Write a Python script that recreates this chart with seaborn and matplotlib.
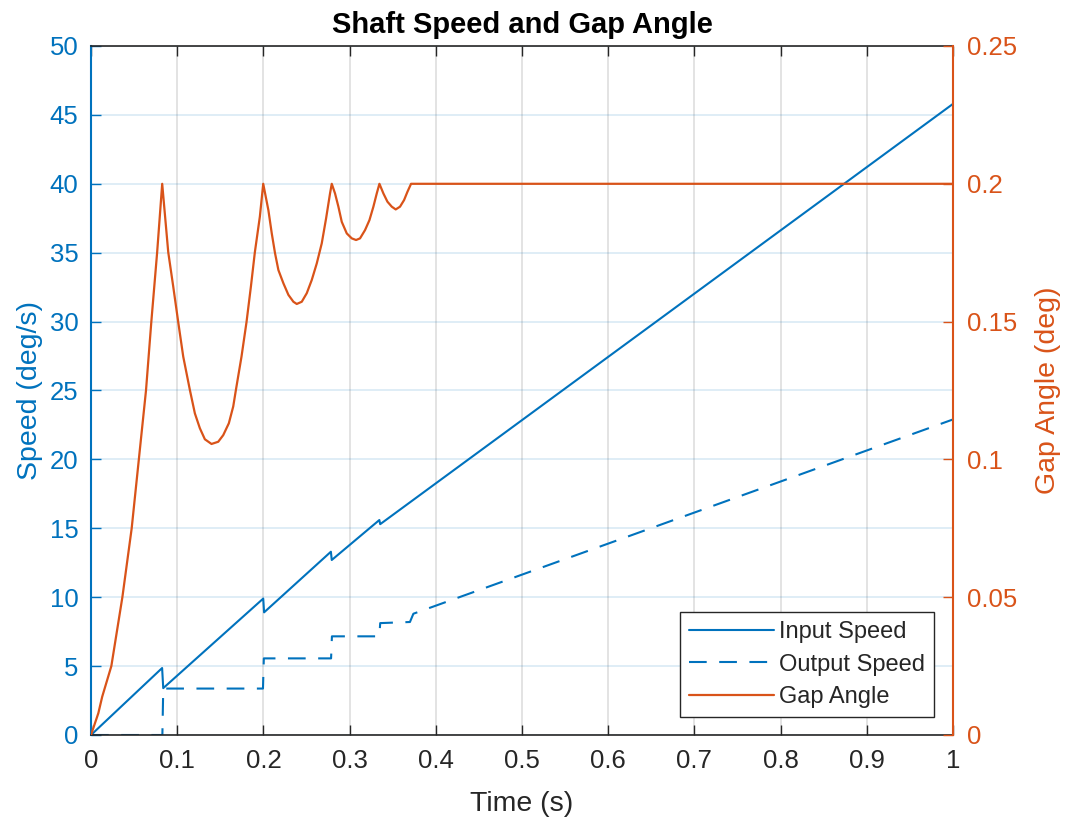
import numpy as np
import pandas as pd
import matplotlib
matplotlib.use("Agg")
import matplotlib.pyplot as plt
import seaborn as sns

# Input shaft speed (deg/s): ramps with small drops at each impact
time_input = [0.0, 0.0825, 0.0838, 0.1998, 0.2008, 0.2783, 0.2793, 0.3345, 0.3355, 1.0]
input_speed = [0.0, 4.86, 3.40, 9.90, 8.90, 13.30, 12.70, 15.60, 15.30, 45.80]

# Output shaft speed (deg/s): held between impacts, then driven
time_output = [0.0, 0.0828, 0.0838, 0.1995, 0.2005, 0.2785, 0.2795, 0.3345, 0.3355,
               0.3700, 0.3740, 1.0]
output_speed = [0.0, 0.0, 3.37, 3.37, 5.56, 5.56, 7.16, 7.16, 8.12, 8.20, 8.80, 22.90]

# Backlash gap angle (deg)
time_gap = [0.0, 0.0085, 0.013, 0.0236, 0.0364, 0.0472, 0.0555, 0.0638, 0.070, 0.0767,
            0.0826,
            0.0896, 0.0954, 0.1012, 0.1070, 0.1147, 0.1205, 0.1263, 0.1321, 0.1398,
            0.1476, 0.1534, 0.1599, 0.1650, 0.1681, 0.1746, 0.1804, 0.1855, 0.1901,
            0.1959, 0.1998,
            0.2058, 0.2097, 0.2135, 0.2174, 0.2232, 0.2290, 0.2348, 0.2387, 0.2445,
            0.2503, 0.2561, 0.2619, 0.2677, 0.2727, 0.2773, 0.2793,
            0.2831, 0.2870, 0.2909, 0.2967, 0.3025, 0.3075, 0.3121, 0.3179, 0.3230,
            0.3276, 0.3315, 0.3346,
            0.3392, 0.3439, 0.3489, 0.3535, 0.3585, 0.3632, 0.3671, 0.3713, 1.0]
gap_angle = [0.0, 0.0079, 0.0139, 0.025, 0.050, 0.075, 0.100, 0.125, 0.150, 0.175,
             0.200,
             0.1752, 0.1627, 0.1498, 0.1373, 0.1252, 0.1167, 0.1113, 0.1073, 0.1056,
             0.1064, 0.1088, 0.1131, 0.1192, 0.1252, 0.1373, 0.1498, 0.1627, 0.1752,
             0.1881, 0.200,
             0.1904, 0.1820, 0.1748, 0.1687, 0.1639, 0.1597, 0.1572, 0.1564, 0.1572,
             0.1603, 0.1651, 0.1711, 0.1784, 0.1874, 0.1965, 0.200,
             0.1965, 0.1917, 0.1862, 0.1820, 0.1802, 0.1796, 0.1802, 0.1832, 0.1868,
             0.1917, 0.1965, 0.200,
             0.1965, 0.1935, 0.1917, 0.1907, 0.1917, 0.1941, 0.1971, 0.200, 0.200]

x_ticks = [0, 0.1, 0.2, 0.3, 0.4, 0.5, 0.6, 0.7, 0.8, 0.9, 1.0]
x_tick_labels = ["0", "0.1", "0.2", "0.3", "0.4", "0.5", "0.6", "0.7", "0.8", "0.9", "1"]
speed_ticks = [0, 5, 10, 15, 20, 25, 30, 35, 40, 45, 50]
gap_ticks = [0, 0.05, 0.1, 0.15, 0.2, 0.25]
gap_tick_labels = ["0", "0.05", "0.1", "0.15", "0.2", "0.25"]

BLUE = "#0072BD"
ORANGE = "#D95319"
DARK = "#262626"

sns.set_theme(style="white")
plt.rcParams["font.family"] = ["Liberation Sans", "DejaVu Sans"]

fig = plt.figure(figsize=(10.71, 8.25), dpi=100)
ax = fig.add_axes([91 / 1071, 1 - 735 / 825, 862 / 1071, 689 / 825])
ax2 = ax.twinx()

df_in = pd.DataFrame({"t": time_input, "v": input_speed})
df_out = pd.DataFrame({"t": time_output, "v": output_speed})
df_gap = pd.DataFrame({"t": time_gap, "g": gap_angle})

sns.lineplot(data=df_in, x="t", y="v", ax=ax, color=BLUE, lw=1.5,
             estimator=None, sort=False, legend=False)
line_in = ax.lines[-1]
sns.lineplot(data=df_out, x="t", y="v", ax=ax, color=BLUE, lw=1.5,
             estimator=None, sort=False, legend=False)
line_out = ax.lines[-1]
line_out.set_dashes((8.5, 6))
sns.lineplot(data=df_gap, x="t", y="g", ax=ax2, color=ORANGE, lw=1.6,
             estimator=None, sort=False, legend=False)
line_gap = ax2.lines[-1]

# axes ranges and ticks
ax.set_xlim(0, 1)
ax.set_ylim(0, 50)
ax2.set_ylim(0, 0.25)
ax.set_xticks(x_ticks)
ax.set_xticklabels(x_tick_labels)
ax.set_yticks(speed_ticks)
ax2.set_yticks(gap_ticks)
ax2.set_yticklabels(gap_tick_labels)

tick_fs = 18.5
ax.tick_params(axis="x", direction="in", length=7, width=1, colors=DARK,
               top=True, bottom=True, labelsize=tick_fs, pad=10)
ax.tick_params(axis="y", direction="in", length=7, width=1, colors=BLUE,
               left=True, right=False, labelsize=tick_fs, pad=9)
ax2.tick_params(axis="y", direction="in", length=7, width=1, colors=ORANGE,
                right=True, left=False, labelsize=tick_fs, pad=10)

# grid: vertical lines grey, horizontal lines tinted with the left axis colour
ax.set_axisbelow(True)
ax.xaxis.grid(True, color=DARK, alpha=0.15, lw=1.2)
ax.yaxis.grid(True, color=BLUE, alpha=0.15, lw=1.2)

for side in ["top", "bottom"]:
    ax.spines[side].set_color(DARK)
    ax.spines[side].set_linewidth(1.2)
    ax2.spines[side].set_visible(False)
ax.spines["left"].set_color(BLUE)
ax.spines["left"].set_linewidth(1.5)
ax.spines["right"].set_visible(False)
ax2.spines["left"].set_visible(False)
ax2.spines["right"].set_color(ORANGE)
ax2.spines["right"].set_linewidth(1.5)

ax.set_xlabel("Time (s)", fontsize=20.5, color=DARK, labelpad=13)
ax.set_ylabel("Speed (deg/s)", fontsize=20.5, color=BLUE, labelpad=5)
ax2.set_ylabel("Gap Angle (deg)", fontsize=20.5, color=ORANGE, labelpad=13)
ax.set_title("Shaft Speed and Gap Angle", fontsize=21, fontweight="bold",
             color="black", pad=9)

leg = ax2.legend([line_in, line_out, line_gap],
                 ["Input Speed", "Output Speed", "Gap Angle"],
                 loc="lower right", bbox_to_anchor=(0.978, 0.026),
                 borderaxespad=0, frameon=True, fancybox=False,
                 edgecolor=DARK, framealpha=1, fontsize=17,
                 handlelength=3.6, handletextpad=0.2, labelspacing=0.44,
                 borderpad=0.38)
leg.get_frame().set_linewidth(1.0)
for txt in leg.get_texts():
    txt.set_color(DARK)

fig.savefig("out.png", dpi=100)
